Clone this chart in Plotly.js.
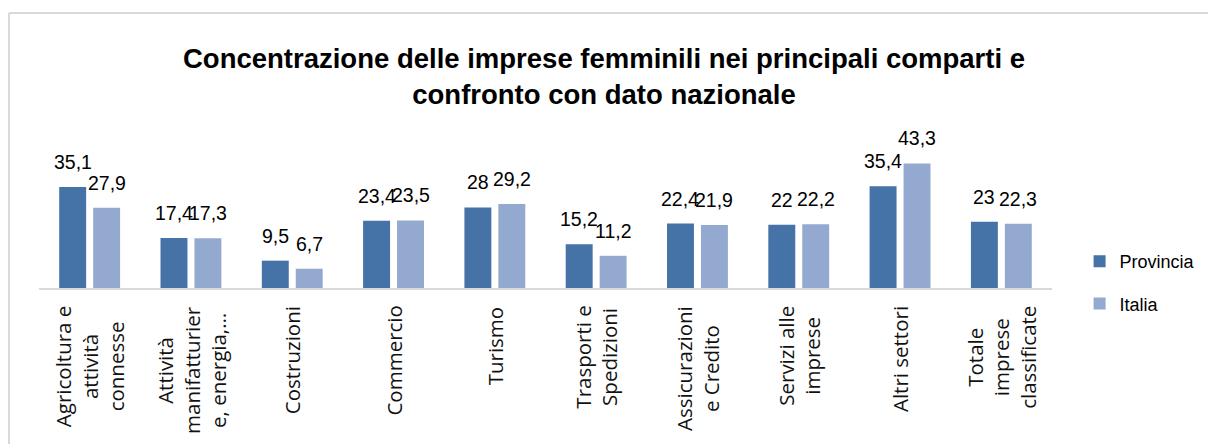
<!DOCTYPE html>
<html>
<head>
<meta charset="utf-8">
<script src="https://cdn.plot.ly/plotly-3.0.1.min.js"></script>
<style>
html,body{margin:0;padding:0;background:#fff;}
#chart{width:1208px;height:444px;}
</style>
</head>
<body>
<div id="chart"></div>
<script>
const categories = [
  "Agricoltura e attività connesse",
  "Attività manifatturiere, energia,...",
  "Costruzioni",
  "Commercio",
  "Turismo",
  "Trasporti e Spedizioni",
  "Assicurazioni e Credito",
  "Servizi alle imprese",
  "Altri settori",
  "Totale imprese classificate"
];
const tickLabels = [
  "Agricoltura e<br>attività<br>connesse",
  "Attività<br>manifatturier<br>e, energia,…",
  "Costruzioni",
  "Commercio",
  "Turismo",
  "Trasporti e<br>Spedizioni",
  "Assicurazioni<br>e Credito",
  "Servizi alle<br>imprese",
  "Altri settori",
  "Totale<br>imprese<br>classificate"
];
const provincia = [35.1, 17.4, 9.5, 23.4, 28, 15.2, 22.4, 22, 35.4, 23];
const italia = [27.9, 17.3, 6.7, 23.5, 29.2, 11.2, 21.9, 22.2, 43.3, 22.3];
const seriesNames = ["Provincia", "Italia"];
const titleText = "Concentrazione delle imprese femminili nei principali comparti e<br>confronto con dato nazionale";

const colors = ["#4572A7", "#94A9CF"];
const fmt = v => String(v).replace('.', ',');

const traces = [provincia, italia].map((vals, i) => ({
  type: 'bar',
  name: seriesNames[i],
  legendgroup: 'g' + i,
  x: categories,
  y: vals,
  marker: {color: colors[i]},
  hoverinfo: 'x+y'
}));

const annotations = [];
// x-axis category labels (rotated, centred)
categories.forEach((c, i) => {
  annotations.push({
    x: c, xref: 'x', y: 0, yref: 'paper',
    yanchor: 'top', xanchor: 'center', yshift: -16,
    text: tickLabels[i], textangle: -90, align: 'center',
    showarrow: false,
    font: {family: 'Open Sans, sans-serif', size: 20.5, color: '#111'}
  });
});
// data labels
[provincia, italia].forEach((vals, s) => {
  vals.forEach((v, i) => {
    annotations.push({
      x: categories[i], xref: 'x', y: v, yref: 'y',
      xshift: s === 0 ? -17 : 17, yshift: 12,
      yanchor: 'bottom', xanchor: 'center',
      text: fmt(v), showarrow: false,
      font: {family: 'Liberation Sans, Arial, sans-serif', size: 19.5, color: '#000'}
    });
  });
});

const layout = {
  width: 1208, height: 444,
  margin: {l: 39, r: 156, t: 130, b: 156, pad: 0},
  paper_bgcolor: '#fff', plot_bgcolor: '#fff',
  barmode: 'group', bargap: 0.33, bargroupgap: 0.206,
  separators: ',.',
  title: {
    text: titleText,
    x: 0.5, xref: 'container', xanchor: 'center',
    y: 0.846, yref: 'container', yanchor: 'top',
    font: {family: 'Liberation Sans, Arial, sans-serif', size: 27.5, weight: 700, color: '#000'}
  },
  xaxis: {
    showticklabels: false, ticks: '', showgrid: false, zeroline: false,
    showline: true, linecolor: '#d9d9d9', linewidth: 2, fixedrange: true
  },
  yaxis: {
    range: [0, 54.92], autorange: false, visible: false,
    showgrid: false, zeroline: false, fixedrange: true
  },
  legend: {
    xref: 'container', yref: 'container',
    x: 0.8937, xanchor: 'left', y: 0.4527, yanchor: 'top',
    tracegroupgap: 16, orientation: 'v',
    font: {family: 'Liberation Sans, Arial, sans-serif', size: 18, color: '#000'},
    bgcolor: 'rgba(0,0,0,0)'
  },
  shapes: [
    {type: 'line', xref: 'paper', yref: 'paper', x0: -0.0296, x1: -0.0296, y0: -1.2, y1: 1.7405,
     line: {color: '#d9d9d9', width: 2}},
    {type: 'line', xref: 'paper', yref: 'paper', x0: -0.0296, x1: 1.3, y0: 1.7405, y1: 1.7405,
     line: {color: '#d9d9d9', width: 2}}
  ],
  annotations: annotations,
  showlegend: true
};

Plotly.newPlot('chart', traces, layout, {displayModeBar: false, staticPlot: true});
</script>
</body>
</html>
